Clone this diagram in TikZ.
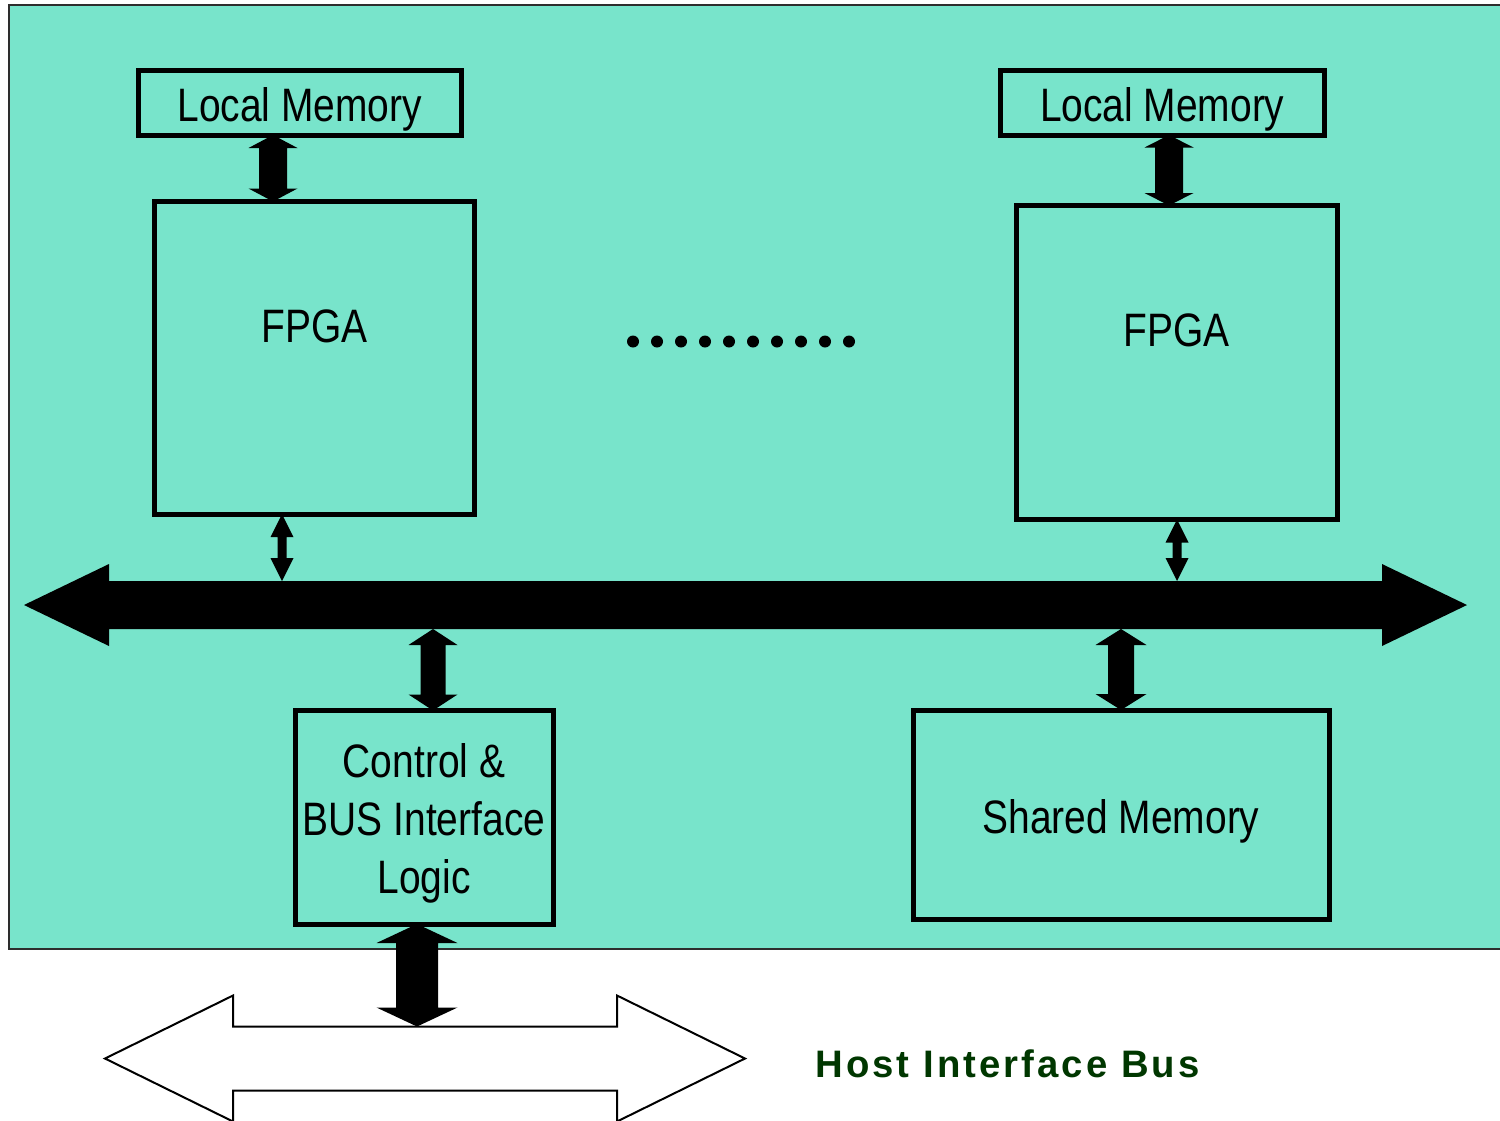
\documentclass[tikz,border=0pt]{standalone}
\usepackage{fontspec}
\setmainfont{Liberation Sans}[FakeStretch=0.83]
\newfontfamily\busfont{Liberation Sans}[LetterSpace=8]
\usetikzlibrary{calc}

\definecolor{board}{RGB}{120,228,203}
\definecolor{frameline}{RGB}{45,45,45}
\definecolor{hostgreen}{RGB}{0,55,0}

% Solid vertical double-headed arrow.
% #1 upper tip, #2 lower tip (only its y is used),
% #3 half shaft width, #4 half head width, #5 head length (all in px units)
\newcommand\fatlink[5]{%
  \fill let \p1=#1, \p2=#2 in
    (\x1,\y1) -- ++(#4,#5) -- ++({#3-#4},0) -- ($(\x1,\y2)+(#3,-#5)$)
    -- ++({#4-#3},0) -- (\x1,\y2) -- ++({-#4},{-#5}) -- ++({#4-#3},0)
    -- ($(\x1,\y1)+(-#3,#5)$) -- ++({#3-#4},0) -- cycle;
}

\begin{document}
\begin{tikzpicture}[x=0.02cm,y=-0.02cm,
  box/.style 2 args={draw=black, line width=0.1cm, inner sep=0pt, outer sep=0pt,
    minimum width=#1*0.02cm, minimum height=#2*0.02cm},
  area/.style 2 args={inner sep=0pt, outer sep=0pt,
    minimum width=#1*0.02cm, minimum height=#2*0.02cm},
  lbl/.style={font=\fontsize{26.7pt}{33pt}\selectfont, inner sep=0pt, anchor=base},
  hostlbl/.style={font=\fontsize{21.8pt}{26pt}\selectfont\busfont\bfseries,
    text=hostgreen, inner sep=0pt, anchor=base west}]

\useasboundingbox (0,0) rectangle (1500,1120);

% board
\filldraw[fill=board, draw=frameline, line width=0.04cm] (9,5.3) rectangle (1508,948.5);

% blocks
\node[box={323.5}{65}]   (lm1)  at (299.75,102.5) {};
\node[box={320.5}{312.5}] (fp1) at (314.25,357.75) {};
\node[box={324.5}{65}]   (lm2)  at (1162.25,102.5) {};
\node[box={321}{314}]    (fp2)  at (1176.5,362.5) {};
\node[box={258}{213.5}]  (ctrl) at (424,817.25) {};
\node[box={416}{209}]    (shm)  at (1121,814.5) {};

% block texts
\node[lbl] (lm1t) at ($(lm1.south)+(0,-14)$) {Local Memory};
\node[lbl] (lm2t) at ($(lm2.south)+(0,-14)$) {Local Memory};
\node[lbl] (fp1t) at ($(fp1.north)+(0,140.5)$) {FPGA};
\node[lbl] (fp2t) at ($(fp2.north)+(0,141)$) {FPGA};
\node[lbl] (shmt) at ($(shm.center)+(0,18.5)$) {Shared Memory};
\node[lbl, align=center] (ctrlt) at ($(ctrl.north)+(0,182.5)$) {Control \&\\BUS Interface\\Logic};

% ellipsis between the FPGA columns
\foreach \i in {0,...,9}
  \fill (633+24*\i,341.5) circle[radius=0.12cm];

% internal bus
\node[area={1273}{48}] (bus) at (745.5,605) {};
\fill (bus.north west) -- ($(bus.west)+(0,-41)$) -- ($(bus.west)+(-85,0)$)
  -- ($(bus.west)+(0,41)$) -- (bus.south west) -- (bus.south east)
  -- ($(bus.east)+(0,41)$) -- ($(bus.east)+(85,0)$) -- ($(bus.east)+(0,-41)$)
  -- (bus.north east) -- cycle;

% host interface bus (outlined)
\node[area={384}{64}] (host) at (425,1058.5) {};
\filldraw[fill=white, draw=black, line width=0.04cm]
  (host.north west) -- ($(host.west)+(0,-63)$) -- ($(host.west)+(-128,0)$)
  -- ($(host.west)+(0,63)$) -- (host.south west) -- (host.south east)
  -- ($(host.east)+(0,63)$) -- ($(host.east)+(128,0)$) -- ($(host.east)+(0,-63)$)
  -- (host.north east) -- cycle;
\node[hostlbl] (hostt) at (815,1077) {Host Interface Bus};

% links
\fatlink{($(lm1.south)+(-26.75,0)$)}{(fp1.north)}{14}{24.5}{13}
\fatlink{($(lm2.south)+(6.75,0)$)}{(fp2.north)}{14}{24.5}{12.5}
\fatlink{($(fp1.south)+(-32.25,0)$)}{(bus.north)}{4.5}{11.5}{23}
\fatlink{($(fp2.south)+(0.5,0)$)}{(bus.north)}{4.5}{11.5}{23}
\fatlink{($(ctrl.north |- bus.south)+(9,0)$)}{(ctrl.north)}{12.5}{24.5}{16}
\fatlink{(shm.north |- bus.south)}{(shm.north)}{13}{25.5}{16}
\fatlink{($(ctrl.south)+(-7,0)$)}{(host.north)}{21}{40.5}{19}

\end{tikzpicture}
\end{document}
